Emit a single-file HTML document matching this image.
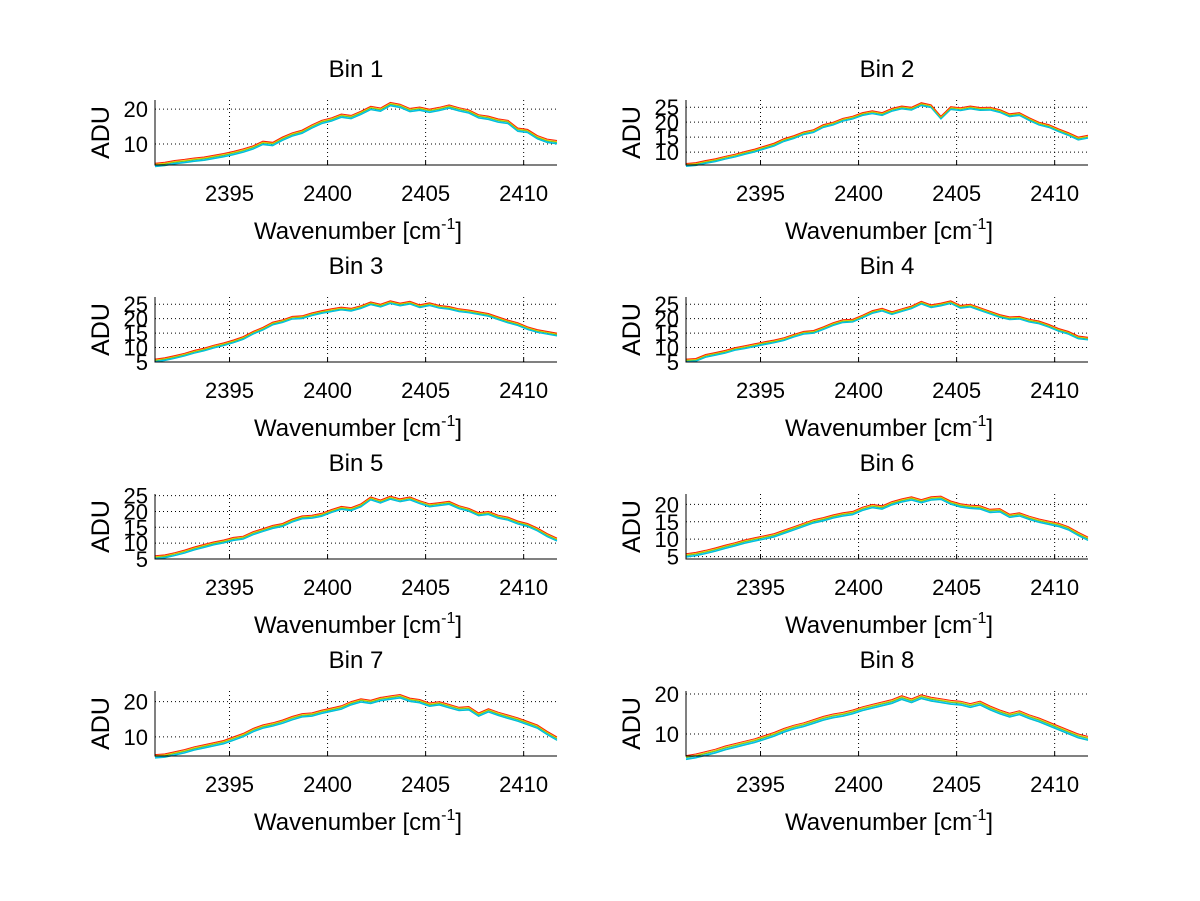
<!DOCTYPE html>
<html><head><meta charset="utf-8"><style>
body{margin:0;background:#fff}
svg{display:block;font-family:"Liberation Sans",sans-serif}
</style></head><body>
<svg id="fig" width="1200" height="901" viewBox="0 0 1200 901"></svg>
<script>
const wnStart = 2391.2, wnStep = 0.5;
const xTicks = [2395, 2400, 2405, 2410];
const seriesOffsets = [-1.0, -0.8, -0.5, -0.3, 0];
const seriesColors = ["#00bfbf", "#00c0ff", "#40c040", "#e0d000", "#ff2000"];
const binTitles = ["Bin 1","Bin 2","Bin 3","Bin 4","Bin 5","Bin 6","Bin 7","Bin 8"];
const yLims = [[4,22.6],[5.7,27.4],[5,27.5],[5,27.5],[5,25.5],[4.3,23],[4.6,23],[4.5,20.75]];
const yTicks = [[10,20],[10,15,20,25],[5,10,15,20,25],[5,10,15,20,25],[5,10,15,20,25],[5,10,15,20],[10,20],[10,20]];
const bin1 = [4.5,4.8,5.3,5.6,6.0,6.3,6.8,7.3,7.9,8.6,9.5,10.8,10.5,12.0,13.2,14.0,15.5,16.8,17.5,18.6,18.2,19.4,20.8,20.3,21.9,21.4,20.2,20.6,20.0,20.5,21.2,20.4,19.8,18.4,18.0,17.2,16.8,14.6,14.2,12.4,11.4,11.0];
const bin2 = [6.2,6.5,7.2,7.8,8.6,9.3,10.2,11.0,12.0,13.0,14.5,15.5,16.8,17.5,19.2,20.0,21.3,22.0,23.2,23.8,23.2,24.6,25.4,25.0,26.5,25.8,22.0,25.2,24.8,25.4,24.9,25.0,24.2,22.8,23.2,21.5,20.0,19.2,17.8,16.5,15.0,15.6];
const bin3 = [6.0,6.5,7.2,8.0,9.0,9.8,10.8,11.6,12.6,13.8,15.6,17.0,18.8,19.6,20.8,21.0,22.0,22.8,23.4,24.0,23.6,24.5,25.8,25.0,26.2,25.4,26.0,24.8,25.5,24.6,24.2,23.4,23.0,22.4,21.8,20.6,19.5,18.6,17.2,16.2,15.6,15.0];
const bin4 = [6.0,6.2,7.6,8.3,9.0,10.0,10.6,11.3,12.0,12.6,13.4,14.6,15.6,15.9,17.2,18.6,19.6,19.8,21.2,22.8,23.6,22.4,23.4,24.4,26.0,24.8,25.4,26.2,24.6,25.0,23.8,22.6,21.4,20.6,20.8,19.8,19.2,18.0,16.6,15.6,14.0,13.6];
const bin5 = [6.0,6.3,7.0,7.8,8.8,9.6,10.4,11.0,11.8,12.2,13.6,14.6,15.6,16.2,17.6,18.6,18.8,19.4,20.6,21.6,21.2,22.4,24.6,23.6,24.8,24.0,24.6,23.4,22.4,22.8,23.2,21.8,21.0,19.6,20.0,18.8,18.2,17.0,16.2,14.8,13.0,11.6];
const bin6 = [5.8,6.2,6.8,7.5,8.3,9.0,9.8,10.4,11.0,11.6,12.6,13.6,14.6,15.6,16.2,17.0,17.6,18.0,19.2,20.0,19.6,20.8,21.6,22.2,21.4,22.2,22.4,21.0,20.2,19.8,19.6,18.6,18.8,17.2,17.6,16.6,15.8,15.2,14.6,13.6,12.0,10.6];
const bin7 = [5.0,5.2,5.8,6.4,7.2,7.8,8.4,9.0,10.0,11.0,12.4,13.4,14.0,14.8,15.8,16.6,16.8,17.6,18.2,18.8,20.0,20.8,20.4,21.2,21.6,22.0,21.0,20.6,19.6,20.0,19.2,18.4,18.6,16.8,18.0,17.0,16.2,15.4,14.4,13.4,11.6,10.0];
const bin8 = [4.6,5.0,5.6,6.2,7.0,7.6,8.2,8.8,9.6,10.4,11.4,12.2,12.8,13.6,14.4,15.0,15.4,16.0,16.8,17.4,18.0,18.6,19.6,18.8,19.8,19.2,18.8,18.4,18.2,17.6,18.2,17.0,16.0,15.2,15.8,14.8,14.0,13.0,12.0,11.0,10.0,9.4];
const bins = [bin1,bin2,bin3,bin4,bin5,bin6,bin7,bin8];

const NS = "http://www.w3.org/2000/svg";
const svg = document.getElementById("fig");
function mk(tag, attrs, parent){const e=document.createElementNS(NS,tag);for(const k in attrs)e.setAttribute(k,attrs[k]);(parent||svg).appendChild(e);return e;}
const colX = [155, 686], rowY = [100, 297, 494, 691], W = 402, H = 65;
const xMin = 2391.2, xMax = 2411.7;
for (let b = 0; b < 8; b++) {
  const L = colX[b % 2], T = rowY[Math.floor(b / 2)];
  const [y0, y1] = yLims[b];
  const sx = v => L + (v - xMin) / (xMax - xMin) * W;
  const sy = v => T + H - (v - y0) / (y1 - y0) * H;
  const g = mk("g", {});
  
  
  xTicks.forEach(t => {
    const ln = mk("line", {x1:sx(t), x2:sx(t), y1:T, y2:T+H, stroke:"#000", "stroke-width":1, "stroke-dasharray":"1,3"}, g);
    
    
    mk("line", {x1:sx(t), x2:sx(t), y1:T+H, y2:T+H-4, stroke:"#000"}, g);
    const tx = mk("text", {x:sx(t), y:T+H+36, "font-size":22, "text-anchor":"middle"}, g);
    tx.textContent = t;
    
    
  });
  yTicks[b].forEach(t => {
    const ln = mk("line", {x1:L, x2:L+W, y1:sy(t), y2:sy(t), stroke:"#000", "stroke-width":1, "stroke-dasharray":"1,3"}, g);
    
    
    const tx = mk("text", {x:L-7, y:sy(t)+8, "font-size":22, "text-anchor":"end"}, g);
    tx.textContent = t;
    
    
  });
  seriesOffsets.forEach((off, s) => {
    const pts = bins[b].map((v, i) => sx(wnStart + i * wnStep).toFixed(1) + "," + sy(v + off).toFixed(1)).join(" ");
    const pl = mk("polyline", {points:pts, fill:"none", stroke:seriesColors[s], "stroke-width":1}, g);
    
    
  });
  const ax = mk("path", {d:`M${L},${T} V${T+H} H${L+W}`, fill:"none", stroke:"#000", "stroke-width":1}, g);
  
  
  const ti = mk("text", {x:L+W/2, y:T-23, "font-size":24, "text-anchor":"middle"}, g);
  ti.textContent = binTitles[b];
  
  
  const yl = mk("text", {x:0, y:0, "font-size":25, "text-anchor":"middle", transform:`translate(${L-46},${T+H/2}) rotate(-90)`}, g);
  yl.textContent = "ADU";
  
  
  const xl = mk("text", {x:L+W/2+2, y:T+H+74, "font-size":24, "text-anchor":"middle"}, g);
  
  
  xl.appendChild(document.createTextNode("Wavenumber [cm"));
  const sup = mk("tspan", {dy:-10, "font-size":16}, xl);
  sup.textContent = "-1";
  const cl = mk("tspan", {dy:10}, xl);
  cl.textContent = "]";
}
</script>
</body></html>
